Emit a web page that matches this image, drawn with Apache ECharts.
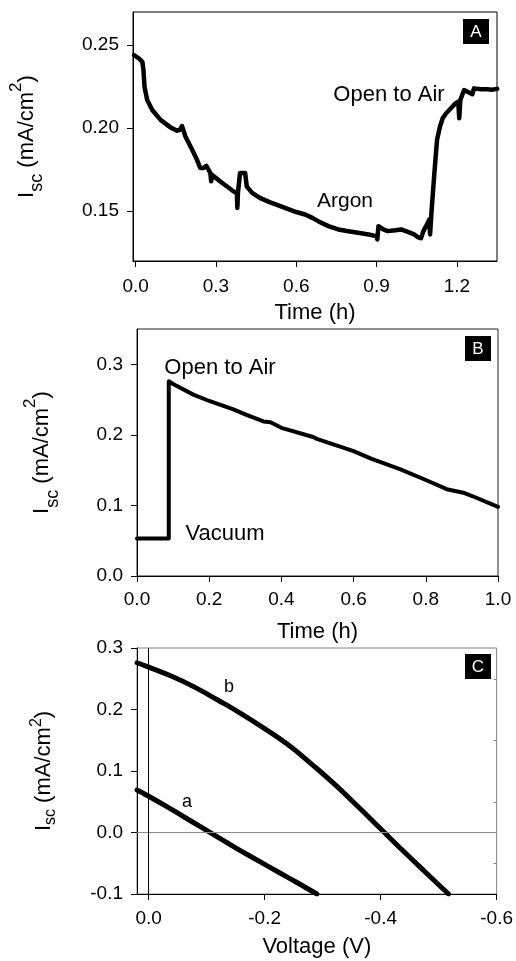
<!DOCTYPE html>
<html>
<head>
<meta charset="utf-8">
<title>Isc vs time / voltage</title>
<script src="https://cdn.jsdelivr.net/npm/echarts@6.0.0/dist/echarts.min.js"></script>
<style>
  html, body { margin: 0; padding: 0; background: #fff; }
  #chart { width: 516px; height: 961px; }
</style>
</head>
<body>
<div id="chart"></div>
<script>
// Panel A: Isc in argon, then opened to air
const timeA = [-0.006, 0.012, 0.025, 0.029, 0.033, 0.043, 0.062, 0.093, 0.13, 0.155, 0.165, 0.173, 0.186, 0.211, 0.229, 0.241, 0.252, 0.264, 0.279, 0.282, 0.285, 0.291, 0.315, 0.34, 0.365, 0.378, 0.38, 0.382, 0.39, 0.409, 0.415, 0.435, 0.464, 0.5, 0.558, 0.6, 0.633, 0.66, 0.682, 0.72, 0.757, 0.8, 0.831, 0.87, 0.899, 0.903, 0.907, 0.925, 0.942, 0.97, 0.992, 1.017, 1.04, 1.054, 1.066, 1.075, 1.085, 1.097, 1.1, 1.105, 1.116, 1.122, 1.126, 1.137, 1.147, 1.16, 1.178, 1.195, 1.205, 1.209, 1.213, 1.227, 1.24, 1.258, 1.264, 1.277, 1.29, 1.314, 1.33, 1.351];
const iscA = [0.244, 0.242, 0.240, 0.235, 0.225, 0.217, 0.211, 0.205, 0.2005, 0.1985, 0.199, 0.2013, 0.195, 0.187, 0.181, 0.176, 0.176, 0.1773, 0.173, 0.168, 0.172, 0.1708, 0.168, 0.165, 0.162, 0.161, 0.152, 0.161, 0.173, 0.173, 0.165, 0.161, 0.158, 0.1555, 0.152, 0.1495, 0.148, 0.146, 0.144, 0.141, 0.139, 0.1378, 0.137, 0.136, 0.135, 0.133, 0.141, 0.139, 0.138, 0.1385, 0.139, 0.1375, 0.136, 0.1344, 0.1337, 0.138, 0.141, 0.145, 0.136, 0.149, 0.173, 0.185, 0.193, 0.201, 0.206, 0.209, 0.212, 0.215, 0.216, 0.206, 0.217, 0.223, 0.222, 0.2205, 0.224, 0.2237, 0.2235, 0.2234, 0.2232, 0.2237];

// Panel B: vacuum, then open to air
const timeB = [0, 0.088, 0.088, 0.1, 0.156, 0.2, 0.267, 0.3, 0.35, 0.37, 0.4, 0.488, 0.5, 0.6, 0.65, 0.73, 0.8, 0.858, 0.904, 0.93, 1.0];
const iscB = [0.053, 0.053, 0.276, 0.272, 0.257, 0.248, 0.236, 0.229, 0.219, 0.218, 0.210, 0.197, 0.194, 0.177, 0.166, 0.151, 0.136, 0.123, 0.118, 0.113, 0.098];

// Panel C: I-V curves a and b
const voltA = [0.02, 0, -0.03, -0.06, -0.09, -0.12, -0.15, -0.18, -0.21, -0.24, -0.27, -0.29];
const curA = [0.069, 0.059, 0.043, 0.026, 0.009, -0.008, -0.025, -0.041, -0.057, -0.073, -0.089, -0.1];
const voltB = [0.02, 0, -0.04, -0.08, -0.12, -0.16, -0.20, -0.24, -0.28, -0.32, -0.36, -0.40, -0.44, -0.48, -0.517];
const curB = [0.276, 0.269, 0.254, 0.236, 0.215, 0.193, 0.169, 0.143, 0.112, 0.079, 0.043, 0.006, -0.031, -0.067, -0.1];

// tick labels
const ticksAx = [0, 0.3, 0.6, 0.9, 1.2];
const ticksAy = [0.15, 0.20, 0.25];
const ticksBx = [0, 0.2, 0.4, 0.6, 0.8, 1.0];
const ticksBy = [0, 0.1, 0.2, 0.3];
const ticksCx = [0, -0.2, -0.4, -0.6];
const ticksCy = [-0.1, 0, 0.1, 0.2, 0.3];
const minorCy = [-0.05, 0.05, 0.15, 0.25];

const font = '"Liberation Sans", Arial, sans-serif';

function pairs(xs, ys) {
  return xs.map((x, i) => [x, ys[i]]);
}

function axis(grid, min, max, ticks, digits, margin) {
  return {
    type: 'value',
    gridIndex: grid,
    min: min,
    max: max,
    axisLine: { show: true, onZero: false, lineStyle: { color: '#000', width: 1 } },
    axisTick: { show: true, length: 6, customValues: ticks, lineStyle: { color: '#000' } },
    axisLabel: {
      customValues: ticks,
      margin: margin,
      color: '#000',
      fontFamily: font,
      fontSize: 19,
      formatter: v => v.toFixed(digits)
    },
    splitLine: { show: false }
  };
}

function xName(ax, text, gap) {
  ax.name = text;
  ax.nameLocation = 'middle';
  ax.nameGap = gap;
  ax.nameTextStyle = { color: '#000', fontFamily: font, fontSize: 22 };
  return ax;
}

function yName(ax, gap, lh, sub, sup) {
  ax.name = '{i|I}{sub|sc}{t| (mA/cm}{sup|2}{t|)}';
  ax.nameLocation = 'middle';
  ax.nameGap = gap;
  ax.nameTextStyle = {
    color: '#000',
    fontFamily: font,
    rich: {
      i: { fontFamily: font, fontSize: 22, lineHeight: lh, color: '#000' },
      t: { fontFamily: font, fontSize: 22, lineHeight: lh, color: '#000' },
      sub: { fontFamily: font, fontSize: sub, lineHeight: sub, verticalAlign: 'bottom', color: '#000' },
      sup: { fontFamily: font, fontSize: sup, lineHeight: sup, verticalAlign: 'top', color: '#000' }
    }
  };
  return ax;
}

function label(text, x, y, size) {
  return {
    type: 'text', x: x, y: y, silent: true,
    style: {
      text: text, fill: '#000', font: size + 'px ' + font,
      align: 'center', verticalAlign: 'middle',
      textAlign: 'center', textVerticalAlign: 'middle'
    }
  };
}

function panelTag(text, x, y) {
  const tag = label(text, x + 13, y + 13, 17);
  tag.style.fill = '#fff';
  return [
    { type: 'rect', silent: true, shape: { x: x, y: y, width: 26, height: 25 }, style: { fill: '#000' } },
    tag
  ];
}

const xC = xName(axis(2, -0.6, 0.02, ticksCx, 1, 15), 'Voltage (V)', 42);
xC.inverse = true;

// small inward ticks on the right border of panel C
const rightC = {
  type: 'value',
  gridIndex: 2,
  position: 'right',
  min: -0.1,
  max: 0.3,
  axisLine: { show: false, onZero: false },
  axisTick: { show: true, inside: true, length: 3, customValues: minorCy, lineStyle: { color: '#808080' } },
  axisLabel: { show: false },
  splitLine: { show: false }
};

const chart = echarts.init(document.getElementById('chart'));

chart.setOption({
  animation: false,
  backgroundColor: '#fff',
  grid: [
    { left: 130, top: 12, width: 367, height: 249, show: true, borderColor: '#000', borderWidth: 1, backgroundColor: 'transparent' },
    { left: 137, top: 329, width: 361, height: 247, show: true, borderColor: '#222', borderWidth: 1, backgroundColor: 'transparent' },
    { left: 137, top: 648, width: 361, height: 246, show: true, borderColor: '#808080', borderWidth: 1, backgroundColor: 'transparent' }
  ],
  xAxis: [
    xName(axis(0, -0.01, 1.35, ticksAx, 1, 16), 'Time (h)', 41),
    xName(axis(1, 0, 1.0, ticksBx, 1, 14), 'Time (h)', 45),
    xC
  ],
  yAxis: [
    yName(axis(0, 0.12, 0.27, ticksAy, 2, 14), 87, 38, 18, 17),
    yName(axis(1, 0, 0.35, ticksBy, 1, 14), 75, 40, 18, 17),
    yName(axis(2, -0.1, 0.3, ticksCy, 1, 14), 78, 30, 16, 16),
    rightC
  ],
  series: [
    {
      type: 'line', xAxisIndex: 0, yAxisIndex: 0,
      data: pairs(timeA, iscA),
      showSymbol: false, symbol: 'none',
      lineStyle: { color: '#000', width: 4.5, join: 'round', cap: 'round' }
    },
    {
      type: 'line', xAxisIndex: 1, yAxisIndex: 1,
      data: pairs(timeB, iscB),
      showSymbol: false, symbol: 'none',
      lineStyle: { color: '#000', width: 4, join: 'round', cap: 'round' }
    },
    {
      type: 'line', xAxisIndex: 2, yAxisIndex: 2,
      data: pairs(voltA, curA),
      smooth: true, showSymbol: false, symbol: 'none',
      lineStyle: { color: '#000', width: 5, cap: 'round' }
    },
    {
      type: 'line', xAxisIndex: 2, yAxisIndex: 2,
      data: pairs(voltB, curB),
      smooth: true, showSymbol: false, symbol: 'none',
      lineStyle: { color: '#000', width: 5, cap: 'round' },
      markLine: {
        silent: true,
        symbol: 'none',
        label: { show: false },
        data: [
          { yAxis: 0, lineStyle: { color: '#8c8c8c', width: 1, type: 'solid' } },
          { xAxis: 0, lineStyle: { color: '#000', width: 1, type: 'solid' } }
        ]
      }
    }
  ],
  graphic: [
    label('Open to Air', 389, 95, 22),
    label('Argon', 345, 201, 21),
    label('Open to Air', 220, 368, 22),
    label('Vacuum', 225, 534, 22),
    label('b', 229, 687, 18),
    label('a', 187, 802, 18)
  ].concat(panelTag('A', 463, 19), panelTag('B', 465, 336), panelTag('C', 465, 654))
});
</script>
</body>
</html>
